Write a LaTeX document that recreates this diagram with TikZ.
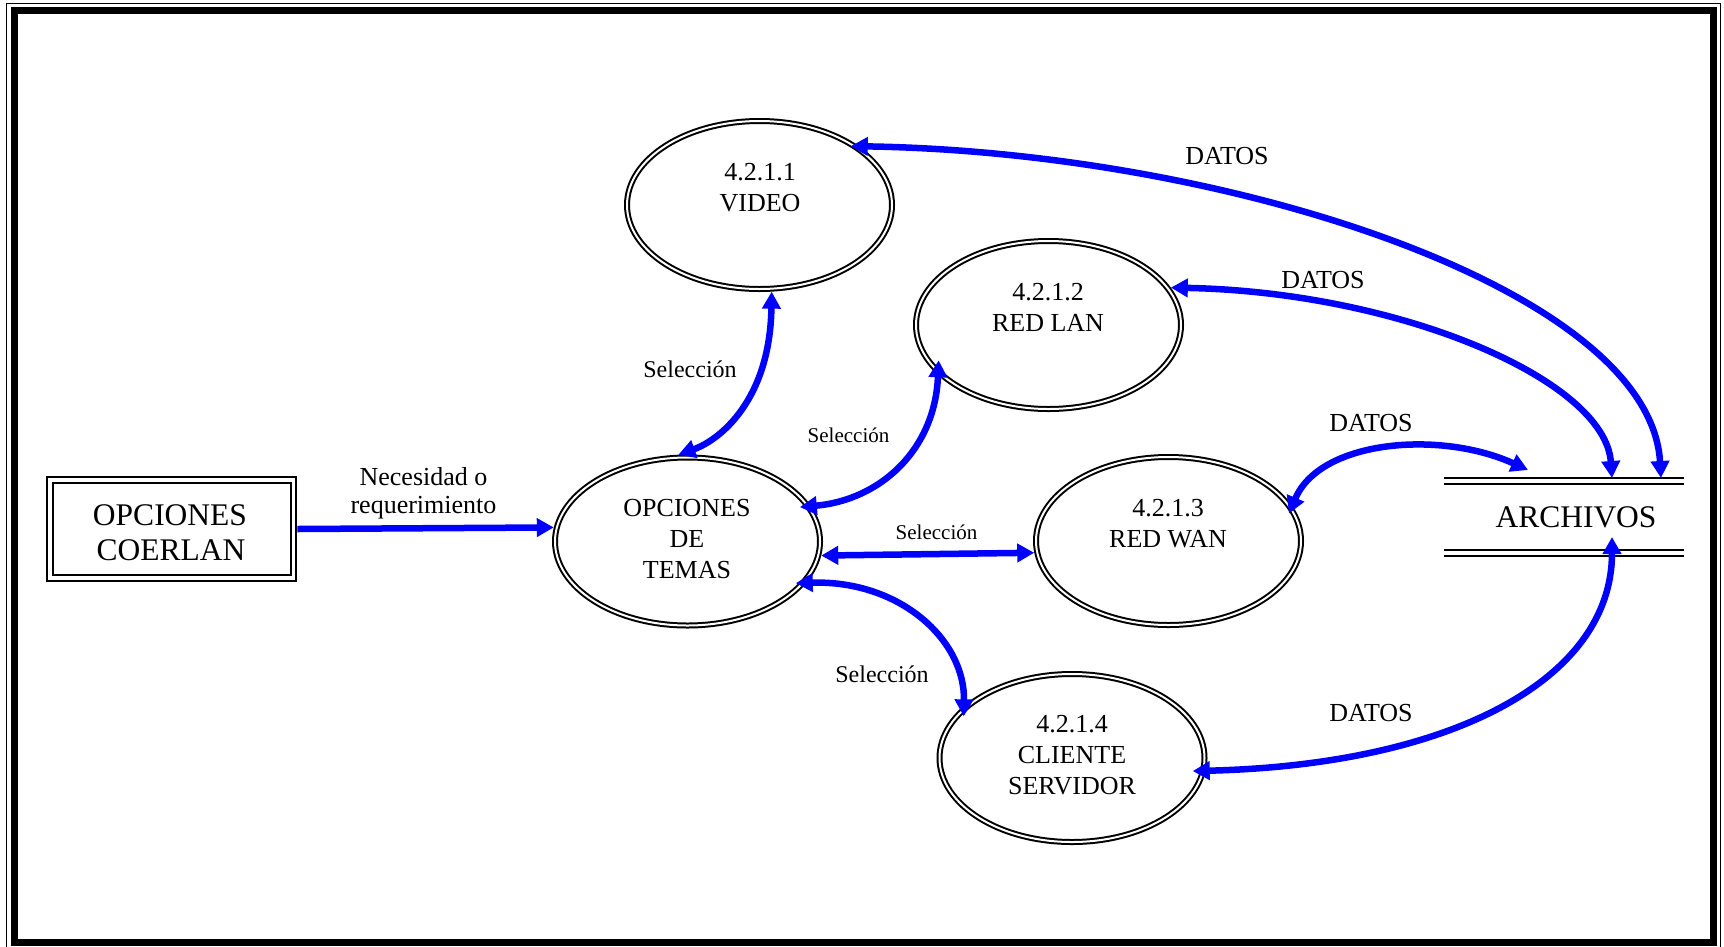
\documentclass[tikz,border=0pt]{standalone}
\usepackage{fontspec}
\setmainfont{Liberation Serif}
\usetikzlibrary{arrows.meta,shapes.geometric}
\begin{document}
\begin{tikzpicture}[x=1pt,y=-1pt,
  >={Triangle[length=17pt,width=18pt]},
  proc/.style={ellipse, draw=black, double=white, line width=2pt, double distance=2pt,
    minimum width=265pt, minimum height=168pt, inner sep=0pt, outer sep=3pt},
  entity/.style={rectangle, draw=black, double=white, line width=2.2pt, double distance=3.3pt,
    minimum width=243.5pt, minimum height=98pt, inner sep=0pt, outer sep=3.85pt},
  storeline/.style={draw=black, double=white, line width=2.2pt, double distance=3.1pt},
  flow/.style={draw=blue, line width=6.5pt},
  txtA/.style={font=\fontsize{26}{31}\selectfont, anchor=base, inner sep=0pt},
  txtB/.style={font=\fontsize{31.5}{35}\selectfont, anchor=base, inner sep=0pt},
  selA/.style={font=\fontsize{24}{28}\selectfont, anchor=base, inner sep=0pt},
  selB/.style={font=\fontsize{21}{25}\selectfont, anchor=base, inner sep=0pt}
]
\useasboundingbox (0,0) rectangle (1724,946);
\fill[white] (0,0) rectangle (1724,946);
% frame
\draw[line width=1.5pt] (6.5,3.5) rectangle (1720.5,952);
\draw[line width=7pt] (14,10.5) rectangle (1713.7,942.5);

% nodes
\node[entity] (coerlan) at (171.75,529) {};
\node[txtB] (coerlan1) at (170,525) {OPCIONES};
\node[txtB] (coerlan2) at (171,560) {COERLAN};

\node[proc] (opc) at (687.5,541.5) {};
\node[txtA] (opc1) at (687,516) {OPCIONES};
\node[txtA] (opc2) at (687,547) {DE};
\node[txtA] (opc3) at (687,578) {TEMAS};

\node[proc] (video) at (759.5,205) {};
\node[txtA] (video1) at (760,180) {4.2.1.1};
\node[txtA] (video2) at (760,211) {VIDEO};

\node[proc] (lan) at (1048.5,325) {};
\node[txtA] (lan1) at (1048,300) {4.2.1.2};
\node[txtA] (lan2) at (1048,331) {RED LAN};

\node[proc] (wan) at (1168.5,541) {};
\node[txtA] (wan1) at (1168,516) {4.2.1.3};
\node[txtA] (wan2) at (1168,547) {RED WAN};

\node[proc] (cli) at (1072,758) {};
\node[txtA] (cli1) at (1072,732) {4.2.1.4};
\node[txtA] (cli2) at (1072,763) {CLIENTE};
\node[txtA] (cli3) at (1072,794) {SERVIDOR};

\node[rectangle, minimum width=240pt, minimum height=72pt, inner sep=0pt, outer sep=0pt] (archivos) at (1564,517) {};
\draw[storeline] (archivos.north west) -- (archivos.north east);
\draw[storeline] (archivos.south west) -- (archivos.south east);
\node[txtB] (archtxt) at (1576,527) {ARCHIVOS};

\coordinate (a1) at (1661,478);
\coordinate (a2) at (1612,478);
\coordinate (a3) at (1528,470);
\coordinate (a4) at (1612,537);

% connectors
\draw[flow,->] (coerlan.east) -- (opc.174.6);
\draw[flow,<->] (opc.354.7) -- (wan.185.1);
\draw[flow,<->] (video.278.7) .. controls (770,400) and (720,440) .. (opc.96.9);
\draw[flow,<->] ([shift={(11,-4)}]lan.198.8) .. controls (935,450) and (880,500) .. ([shift={(-10,3)}]opc.17.8);
\draw[flow,<->] ([shift={(-8,-3)}]opc.339.7) .. controls (900,580) and (965,640) .. ([shift={(8,3)}]cli.159.4);
\draw[flow,<->] ([shift={(-4,3)}]video.33.8) .. controls (1230,152) and (1650,290) .. (a1);
\draw[flow,<->] (lan.17.2) .. controls (1400,292) and (1605,380) .. (a2);
\draw[flow,<->] ([shift={(-7,2)}]wan.13.6) .. controls (1320,440) and (1440,430) .. (a3);
\draw[flow,<->] ([shift={(-13,-1)}]cli.354.8) .. controls (1450,765) and (1612,680) .. (a4);

% labels
\node[txtA] (nec1) at (423.5,485) {Necesidad o};
\node[txtA] (nec2) at (423.5,513) {requerimiento};
\node[selA] (sel1) at (690,377) {Selección};
\node[selB] (sel2) at (848.5,442) {Selección};
\node[selB] (sel3) at (936.5,539) {Selección};
\node[selA] (sel4) at (882,682) {Selección};
\node[txtA] (d1) at (1227,164) {DATOS};
\node[txtA] (d2) at (1323,288) {DATOS};
\node[txtA] (d3) at (1371,431) {DATOS};
\node[txtA] (d4) at (1371,721) {DATOS};
\end{tikzpicture}
\end{document}
